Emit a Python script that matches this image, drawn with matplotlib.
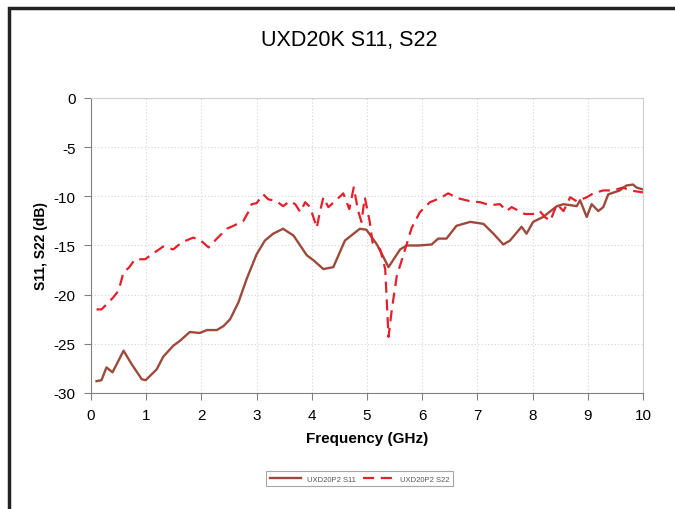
"""Recreate the UXD20K S11/S22 return-loss chart."""

import matplotlib.pyplot as plt
from matplotlib.patches import Rectangle

plt.rcParams["font.family"] = ["Liberation Sans", "DejaVu Sans"]
plt.rcParams["axes.unicode_minus"] = False

S11_FREQ = [0.1, 0.19, 0.28, 0.39, 0.59, 0.74, 0.92, 0.99, 1.19, 1.31, 1.49, 1.61,
            1.79, 1.97, 2.1, 2.28, 2.4, 2.52, 2.67, 2.82, 3.0, 3.15, 3.3, 3.48,
            3.67, 3.91, 4.03, 4.21, 4.39, 4.6, 4.87, 4.99, 5.18, 5.39, 5.6, 5.72,
            5.93, 6.17, 6.29, 6.44, 6.62, 6.87, 7.11, 7.29, 7.47, 7.59, 7.8, 7.89,
            8.01, 8.19, 8.44, 8.56, 8.8, 8.86, 8.98, 9.07, 9.19, 9.28, 9.37, 9.58,
            9.7, 9.82, 9.88, 10.0]
S11_DB = [-28.8, -28.7, -27.4, -27.9, -25.7, -27.1, -28.6, -28.7, -27.6, -26.3,
          -25.2, -24.7, -23.8, -23.9, -23.6, -23.6, -23.2, -22.5, -20.8, -18.4,
          -15.9, -14.5, -13.8, -13.3, -14.0, -16.0, -16.5, -17.4, -17.2, -14.5,
          -13.3, -13.4, -14.9, -17.2, -15.4, -15.0, -15.0, -14.9, -14.3, -14.3,
          -13.0, -12.6, -12.8, -13.8, -14.9, -14.5, -13.1, -13.8, -12.6, -12.1,
          -11.0, -10.8, -11.0, -10.4, -12.1, -10.8, -11.5, -11.1, -9.8, -9.4,
          -8.9, -8.8, -9.1, -9.3]

S22_FREQ = [0.1, 0.19, 0.28, 0.4, 0.5, 0.59, 0.68, 0.8, 0.98, 1.13, 1.31, 1.49,
            1.64, 1.85, 1.97, 2.13, 2.28, 2.46, 2.58, 2.76, 2.85, 2.91, 3.0, 3.12,
            3.21, 3.36, 3.48, 3.6, 3.7, 3.79, 3.88, 3.97, 4.09, 4.15, 4.21, 4.3,
            4.42, 4.57, 4.68, 4.76, 4.84, 4.9, 4.96, 5.05, 5.1, 5.24, 5.33, 5.39,
            5.45, 5.54, 5.69, 5.81, 5.96, 6.14, 6.32, 6.47, 6.65, 6.87, 7.05, 7.23,
            7.41, 7.53, 7.62, 7.86, 8.01, 8.13, 8.22, 8.32, 8.44, 8.56, 8.68, 8.8,
            8.98, 9.1, 9.28, 9.46, 9.64, 9.76, 9.88, 10.0]
S22_DB = [-21.5, -21.5, -21.0, -20.3, -19.6, -17.7, -17.3, -16.4, -16.4, -15.8,
          -15.1, -15.4, -14.7, -14.2, -14.4, -15.2, -14.3, -13.3, -13.0, -12.5,
          -11.6, -10.8, -10.7, -9.8, -10.3, -10.5, -11.0, -10.5, -10.8, -11.6,
          -10.6, -11.1, -13.2, -11.5, -10.1, -11.1, -10.5, -9.7, -11.3, -9.1,
          -11.5, -12.6, -10.1, -12.6, -14.7, -15.4, -17.4, -24.3, -21.5, -18.1,
          -15.4, -13.2, -11.6, -10.6, -10.2, -9.7, -10.2, -10.5, -10.6, -10.9,
          -10.8, -11.5, -11.1, -11.8, -11.8, -11.5, -12.1, -12.5, -10.8, -11.5,
          -10.1, -10.5, -10.1, -9.7, -9.4, -9.4, -9.1, -9.4, -9.5, -9.6]

X_TICKS = list(range(0, 11))
Y_TICKS = list(range(-30, 1, 5))


def main() -> None:
    fig = plt.figure(figsize=(6.75, 5.1), dpi=100)
    ax = fig.add_axes([0.1348, 0.2275, 0.8178, 0.5784])

    ax.plot(S11_FREQ, S11_DB, color="#9C4A3C", lw=1.7, label="UXD20P2 S11")
    ax.plot(S22_FREQ, S22_DB, color="#E3202B", lw=1.6, dashes=(5, 3),
            label="UXD20P2 S22")

    ax.set(xlim=(0, 10), ylim=(-30, 0), xticks=X_TICKS, yticks=Y_TICKS)
    ax.grid(True, color="#d4d4d4", ls=(0, (1, 2)), lw=0.8)
    for side in ("left", "bottom"):
        ax.spines[side].set_color("#808080")
    for side in ("top", "right"):
        ax.spines[side].set_color("#d0d0d0")
    ax.tick_params(direction="out", length=5, color="#808080", labelsize=11,
                   pad=6)
    ax.set_xlabel("Frequency (GHz)", fontsize=11, fontweight="bold", labelpad=6)
    ax.set_ylabel("S11, S22 (dB)", fontsize=10, fontweight="bold", labelpad=4)

    fig.text(0.518, 0.92, "UXD20K S11, S22", ha="center", va="center",
             fontsize=15.5)

    leg = ax.legend(loc="center", bbox_to_anchor=(0.533, 0.059),
                    bbox_transform=fig.transFigure, ncol=2, fontsize=5.5,
                    frameon=True, fancybox=False, handlelength=4,
                    columnspacing=1.0, borderpad=0.5)
    leg.get_frame().set_edgecolor("#909090")
    leg.get_frame().set_linewidth(0.8)
    for text in leg.get_texts():
        text.set_color("#555555")

    fig.patches.append(Rectangle((0.013, -0.1), 1.1, 1.082, fill=False,
                                 edgecolor="#222222", lw=2.5,
                                 transform=fig.transFigure, figure=fig))

    fig.savefig("out.png", dpi=100)
    plt.close(fig)


if __name__ == "__main__":
    main()
